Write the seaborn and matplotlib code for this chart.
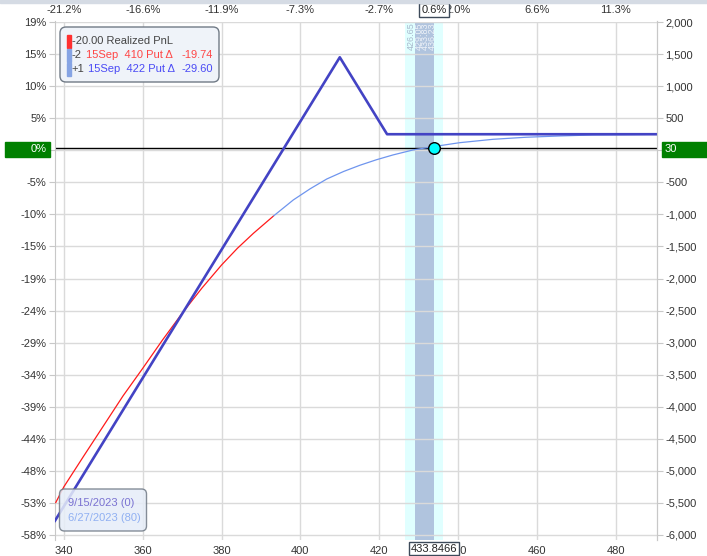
import matplotlib
matplotlib.use("Agg")
import matplotlib.pyplot as plt
import matplotlib.transforms as mtransforms
from matplotlib.patches import Rectangle, FancyBboxPatch
import seaborn as sns

# expiration payoff, 9/15/2023
exp_x = [337.6, 410, 422, 490.5]
exp_y = [-5790, 1450, 250, 250]

# today's curve, 6/27/2023 (red part / blue part)
t0_red_x = [337.9, 340, 345, 351, 355, 360, 365, 370, 375, 380, 384, 388.1, 393.2]
t0_red_y = [-5496, -5246, -4770, -4206, -3830, -3400, -2960, -2542, -2150, -1789, -1530, -1294, -1024]
t0_blue_x = [393.2, 398.2, 402.5, 406.7, 411, 415.1, 419.3, 423.5, 428.6,
             433.7, 440.4, 448.9, 457.3, 465.8, 474.3, 482.6, 490.2]
t0_blue_y = [-1024, -775, -600, -448, -330, -234, -148, -73, 5,
             56, 118, 171, 203, 223, 239, 243, 249]

price = 433.8466
pnl_now = 30
band_outer = (426.65, 436.23)
band_inner = (429.05, 433.85)
band_labels = ["426.65", "429.05", "433.83", "436.23"]
band_label_x = [428.1, 430.2, 431.8, 433.4]

x_ticks = [340, 360, 380, 400, 420, 440, 460, 480]
top_labels = ["-21.2%", "-16.6%", "-11.9%", "-7.3%", "-2.7%", "2.0%", "6.6%", "11.3%"]
y_ticks = [2000, 1500, 1000, 500, 0, -500, -1000, -1500, -2000, -2500,
           -3000, -3500, -4000, -4500, -5000, -5500, -6000]
pct_labels = ["19%", "15%", "10%", "5%", "", "-5%", "-10%", "-15%", "-19%", "-24%",
              "-29%", "-34%", "-39%", "-44%", "-48%", "-53%", "-58%"]

W, H = 707, 556
sns.set_style("white")
plt.rcParams["font.family"] = ["Liberation Sans", "DejaVu Sans"]

fig = plt.figure(figsize=(W / 100, H / 100), dpi=100)
ax = fig.add_axes([54.5 / W, 1 - 540 / H, (657 - 54.5) / W, (540 - 21.5) / H])
px = mtransforms.Affine2D().scale(1 / W, -1 / H).translate(0, 1) + fig.transFigure

ax.set_xlim(337.6, 490.5)
ax.set_ylim(-6078, 2008)
ax.set_xticks(x_ticks)
ax.set_yticks(y_ticks)
ax.set_yticklabels(pct_labels)
ax.grid(True, color="#dadada", linewidth=1)
ax.set_axisbelow(True)
for s in ["top", "bottom"]:
    ax.spines[s].set_visible(False)
for s in ["left", "right"]:
    ax.spines[s].set_color("#c8c8c8")
ax.tick_params(axis="y", length=4, color="#c8c8c8", labelsize=8, labelcolor="#333333", pad=2)
ax.tick_params(axis="x", length=3, color="#dadada", labelsize=8, labelcolor="#333333", pad=1.5)

ax2 = ax.twinx()
ax2.set_ylim(ax.get_ylim())
ax2.set_yticks(y_ticks)
ax2.set_yticklabels(["" if v == 0 else f"{v:,}" for v in y_ticks])
ax2.tick_params(axis="y", length=4, color="#c8c8c8", labelsize=8, labelcolor="#333333", pad=2)
for s in ["top", "bottom", "left"]:
    ax2.spines[s].set_visible(False)
ax2.spines["right"].set_color("#c8c8c8")

sec = ax.secondary_xaxis("top")
sec.set_xticks(x_ticks)
sec.set_xticklabels(top_labels)
sec.tick_params(length=0, pad=4.5, labelsize=8, labelcolor="#333333")
sec.spines["top"].set_visible(False)

# price bands
ax.axvspan(*band_outer, color="#e0ffff", zorder=0.2, lw=0)
ax.axvspan(*band_inner, color="#b0c4de", zorder=0.3, lw=0)
for lx, lab, c in zip(band_label_x, band_labels, ["#a8b8cc", "#eef2f8", "#eef2f8", "#eef2f8"]):
    ax.text(lx, 1990, lab, rotation=90, ha="center", va="top", fontsize=6.5, color=c, zorder=1)

ax.axhline(pnl_now, color="black", linewidth=1, zorder=2)

sns.lineplot(x=t0_red_x, y=t0_red_y, ax=ax, color="#ff1a1a", linewidth=0.9,
             estimator=None, sort=False, zorder=3)
sns.lineplot(x=t0_blue_x, y=t0_blue_y, ax=ax, color="#6f95ee", linewidth=0.9,
             estimator=None, sort=False, zorder=3)
sns.lineplot(x=exp_x, y=exp_y, ax=ax, color="#4343c4", linewidth=1.9,
             estimator=None, sort=False, zorder=4)
sns.scatterplot(x=[price], y=[pnl_now], ax=ax, color="#00ffff", edgecolor="black",
                linewidth=1, s=70, zorder=5)

# current price boxes
ax.text(price, -0.0165, f"{price:.4f}", transform=ax.get_xaxis_transform(), ha="center",
        va="center", fontsize=8, color="#222222", zorder=10, clip_on=False,
        bbox=dict(boxstyle="square,pad=0.15", fc="white", ec="#3d4a5a", lw=1))
ax.text(price, 1.0225, "0.6%", transform=ax.get_xaxis_transform(), ha="center",
        va="center", fontsize=8, color="#222222", zorder=10, clip_on=False,
        bbox=dict(boxstyle="square,pad=0.2", fc="white", ec="#3d4a5a", lw=1))

# green P&L markers on both axes
fig.patches.append(Rectangle((5, 141.7), 45, 15, transform=px, color="#008000"))
fig.patches.append(Rectangle((661.5, 141.7), 46, 15, transform=px, color="#008000"))
fig.text(47, 149.5, "0%", transform=px, ha="right", va="center", fontsize=8, color="white")
fig.text(665, 149.5, f"{pnl_now}", transform=px, ha="left", va="center", fontsize=8, color="white")

# top strip
fig.patches.append(Rectangle((0, 0), W, 2.5, transform=px, color="#d5dbe4"))

# position legend
fig.patches.append(FancyBboxPatch((60, 27), 159, 55, boxstyle="round,pad=0,rounding_size=6",
                                  transform=px, fc="#eff3f9", ec="#707a86", lw=1, zorder=20))
rows = [
    ("#ff3030", [(71.5, "-20.00 Realized PnL", "#444444")]),
    ("#86a4e4", [(71.5, "-2", "#444444"), (86, "15Sep  410 Put Δ", "#ff4545"), (181.5, "-19.74", "#ff4545")]),
    ("#86a4e4", [(71.5, "+1", "#444444"), (87.5, "15Sep  422 Put Δ", "#4a4af5"), (181.5, "-29.60", "#4a4af5")]),
]
for (y, (bar, parts)) in zip([41.5, 55, 69.5], rows):
    fig.patches.append(Rectangle((67.3, y - 6.5), 3.3, 13, transform=px, color=bar, zorder=21))
    for x, t, c in parts:
        fig.text(x, y, t, transform=px, ha="left", va="center", fontsize=8, color=c, zorder=22)

# date legend
fig.patches.append(FancyBboxPatch((59.5, 489), 87, 42, boxstyle="round,pad=0,rounding_size=5",
                                  transform=px, fc="#e6edf8", ec="#707a86", lw=1, alpha=0.85, zorder=20))
fig.text(67.5, 503.5, "9/15/2023 (0)", transform=px, ha="left", va="center", fontsize=8,
         color="#7a72d2", zorder=22)
fig.text(67.5, 518, "6/27/2023 (80)", transform=px, ha="left", va="center", fontsize=8,
         color="#90b0f2", zorder=22)

fig.savefig("out.png", dpi=100)
